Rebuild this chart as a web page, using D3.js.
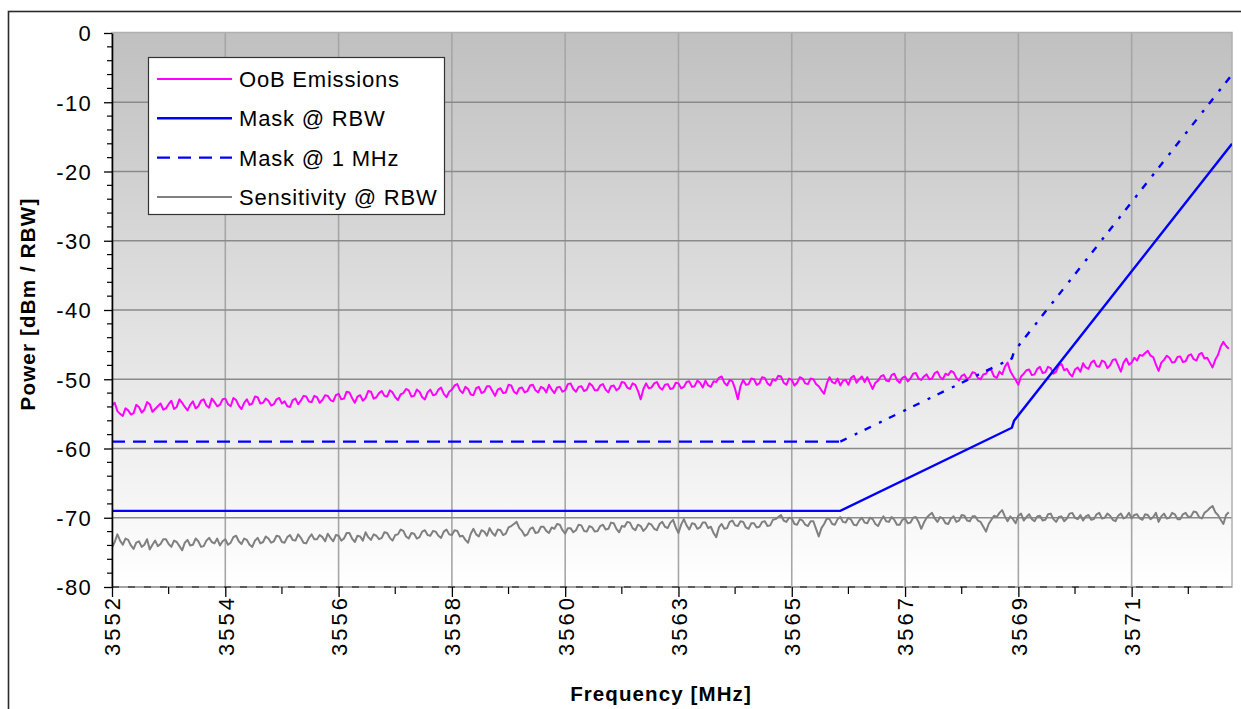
<!DOCTYPE html>
<html><head><meta charset="utf-8">
<script src="https://cdn.jsdelivr.net/npm/d3@7"></script>
<style>
html,body{margin:0;padding:0;background:#fff;}
svg{display:block;}
text{font-family:"Liberation Sans",Arial,sans-serif;fill:#000;}
</style></head><body>
<svg id="chart" width="1241" height="709"></svg>
<script>
// ---- data ----
const freqStart = 3552.0;   // MHz, first sweep point
const freqStep = 0.05;      // MHz, sweep spacing
const oobEmissions = [
-53.8,-53.4,-54.6,-55.0,-55.3,-54.2,-54.5,-55.1,-54.9,-53.7,-54.0,-54.8,-54.4,-53.3,-53.6,-54.7,-54.3,-53.9,-53.5,-54.4,
-54.2,-53.6,-53.1,-54.3,-54.0,-52.9,-53.4,-54.0,-54.5,-53.7,-53.2,-54.2,-53.9,-53.1,-52.9,-53.8,-54.1,-52.8,-53.3,-53.9,
-53.7,-52.9,-52.8,-53.6,-53.9,-52.7,-53.0,-53.8,-54.3,-53.4,-52.9,-53.7,-53.5,-52.5,-52.6,-53.5,-53.4,-52.8,-53.1,-53.8,
-53.6,-52.9,-52.7,-53.5,-53.2,-53.9,-54.0,-53.0,-52.8,-53.6,-53.1,-52.4,-52.5,-53.2,-53.3,-52.4,-52.6,-53.4,-53.0,-52.3,
-52.4,-53.0,-53.2,-52.3,-52.1,-52.9,-52.8,-51.8,-51.9,-52.7,-53.4,-52.5,-52.3,-53.1,-52.7,-51.7,-51.8,-52.8,-52.6,-52.0,
-51.7,-52.4,-52.5,-51.6,-51.9,-52.6,-53.0,-52.2,-52.0,-51.4,-51.6,-52.5,-52.4,-51.5,-51.8,-52.6,-52.9,-51.9,-51.5,-52.3,
-52.2,-51.5,-51.2,-52.1,-52.6,-51.8,-51.5,-50.9,-50.7,-51.6,-52.0,-51.1,-51.4,-52.2,-52.3,-51.3,-51.1,-52.0,-51.8,-51.0,
-51.0,-51.7,-52.4,-51.5,-51.3,-52.0,-51.9,-50.8,-50.9,-51.8,-52.1,-51.3,-51.2,-51.9,-51.7,-50.9,-50.8,-51.6,-51.9,-51.1,
-51.3,-51.9,-50.8,-51.5,-52.0,-51.2,-51.1,-51.8,-51.6,-50.7,-50.6,-51.4,-51.8,-51.1,-51.0,-51.7,-51.5,-50.6,-50.9,-51.6,
-51.6,-50.9,-50.7,-51.5,-51.9,-51.0,-50.9,-51.6,-51.3,-50.4,-50.5,-51.2,-51.4,-50.6,-50.8,-51.7,-52.9,-51.4,-50.6,-51.3,
-51.2,-50.6,-50.4,-51.2,-51.5,-50.8,-50.7,-51.4,-51.3,-50.5,-50.6,-51.3,-51.1,-50.4,-50.3,-51.1,-51.0,-50.2,-50.5,-51.2,
-50.2,-50.9,-51.1,-50.3,-50.4,-49.8,-49.6,-50.5,-50.9,-50.1,-50.3,-51.4,-52.9,-51.0,-50.1,-50.8,-50.7,-49.9,-50.0,-50.8,
-50.6,-49.7,-49.8,-50.6,-50.9,-50.0,-50.2,-49.5,-49.6,-50.5,-50.8,-49.9,-50.1,-50.9,-50.5,-49.7,-49.9,-50.6,-50.7,-49.9,
-50.0,-50.7,-51.0,-51.6,-52.1,-50.6,-49.7,-50.4,-50.6,-49.9,-50.9,-50.2,-50.1,-50.8,-49.8,-49.5,-50.5,-50.0,-49.6,-50.4,
-49.7,-50.6,-51.4,-50.5,-50.2,-49.6,-49.4,-50.2,-50.3,-49.4,-49.2,-50.1,-50.5,-49.8,-49.6,-50.3,-49.9,-49.2,-49.1,-49.9,
-50.1,-49.6,-49.3,-50.0,-49.9,-49.1,-48.9,-49.7,-50.0,-49.2,-49.4,-48.8,-49.0,-49.8,-50.2,-49.5,-49.3,-50.0,-49.7,-49.0,
-49.1,-49.8,-50.0,-49.3,-49.2,-48.6,-48.7,-49.6,-49.8,-48.9,-49.3,-48.2,-47.6,-48.8,-49.5,-50.1,-50.8,-49.6,-49.2,-48.7,
-48.6,-49.4,-49.3,-48.5,-48.2,-49.1,-49.0,-48.2,-48.4,-49.2,-48.9,-48.0,-47.8,-48.7,-48.5,-49.2,-49.6,-48.6,-48.3,-48.9,
-47.7,-48.3,-48.5,-47.6,-47.3,-48.1,-48.2,-47.3,-47.5,-48.4,-48.0,-47.2,-47.1,-48.0,-48.9,-47.6,-47.0,-47.9,-47.6,-46.9,
-47.3,-46.5,-46.6,-46.2,-45.9,-46.6,-46.8,-47.9,-48.8,-47.6,-47.2,-46.6,-46.9,-47.6,-47.5,-46.8,-46.7,-47.5,-47.4,-46.6,
-46.4,-47.1,-47.3,-46.4,-46.2,-47.0,-46.9,-47.6,-48.3,-47.2,-46.5,-45.3,-44.6,-45.2,-45.6
];
const sensitivity = [
-74.3,-73.5,-72.4,-73.3,-73.9,-73.0,-73.2,-74.0,-74.5,-73.6,-73.4,-74.2,-73.9,-73.1,-74.6,-73.9,-73.3,-74.1,-73.8,-73.1,
-73.1,-73.8,-74.2,-73.3,-73.5,-74.1,-74.7,-73.6,-73.2,-74.0,-73.9,-73.0,-73.4,-74.2,-74.1,-73.3,-72.9,-73.5,-73.7,-73.0,
-74.0,-73.4,-73.1,-73.9,-73.6,-72.8,-72.6,-73.4,-73.8,-73.0,-73.2,-73.9,-74.2,-73.3,-72.9,-73.7,-73.5,-72.7,-73.0,-73.6,
-73.4,-72.6,-72.7,-73.5,-73.6,-72.8,-72.5,-73.2,-73.3,-72.4,-72.9,-73.6,-73.7,-72.9,-72.4,-73.1,-73.1,-72.5,-72.8,-73.4,
-72.3,-72.9,-73.4,-72.5,-72.6,-73.3,-73.0,-72.2,-72.2,-73.0,-73.5,-72.6,-72.7,-73.3,-72.1,-72.8,-73.2,-72.4,-72.6,-73.1,
-72.9,-72.1,-72.2,-72.9,-73.3,-72.5,-72.4,-71.7,-71.9,-72.7,-73.0,-72.2,-72.3,-73.0,-72.8,-72.0,-71.8,-72.5,-72.6,-71.9,
-72.0,-72.6,-72.9,-72.0,-71.7,-72.4,-72.5,-71.8,-71.9,-72.7,-72.6,-73.2,-73.6,-72.3,-71.6,-72.4,-72.7,-71.8,-72.0,-72.6,
-71.5,-72.2,-72.6,-71.7,-71.8,-72.5,-72.3,-71.4,-71.2,-70.9,-70.6,-71.5,-71.9,-72.6,-72.4,-71.6,-71.4,-72.2,-72.1,-71.3,
-71.3,-71.9,-72.2,-71.4,-71.6,-70.9,-71.0,-71.8,-72.3,-71.5,-71.5,-72.1,-71.8,-71.0,-71.1,-71.9,-72.0,-71.2,-71.4,-72.0,
-71.9,-71.2,-71.0,-71.7,-71.6,-70.7,-70.8,-71.6,-72.1,-71.2,-71.3,-70.6,-70.7,-71.5,-71.8,-71.0,-71.2,-71.9,-71.5,-70.8,
-71.0,-71.6,-71.8,-70.9,-70.6,-71.3,-71.5,-70.7,-70.3,-71.4,-72.2,-71.0,-70.2,-71.1,-71.7,-70.8,-70.9,-71.6,-71.4,-70.7,
-70.7,-71.5,-71.3,-72.2,-72.8,-71.4,-70.9,-71.6,-71.5,-70.6,-70.4,-71.1,-71.2,-70.5,-70.6,-71.4,-71.6,-70.8,-70.8,-71.4,
-71.3,-70.6,-70.5,-71.2,-71.1,-70.3,-70.2,-69.9,-69.6,-70.4,-70.6,-70.0,-70.1,-70.9,-71.0,-70.2,-70.4,-71.0,-71.2,-70.5,
-70.5,-71.6,-72.7,-71.5,-70.9,-70.1,-70.2,-70.9,-71.0,-70.2,-69.9,-70.6,-70.7,-70.0,-70.3,-71.0,-71.1,-70.4,-70.0,-70.7,
-70.8,-70.0,-70.2,-70.9,-71.2,-70.4,-69.8,-70.5,-70.6,-69.9,-70.3,-71.0,-71.0,-70.3,-70.1,-70.8,-70.7,-70.0,-69.9,-70.6,
-71.6,-70.7,-70.0,-69.6,-69.3,-70.1,-70.6,-69.9,-70.1,-70.8,-70.9,-70.1,-69.8,-70.6,-70.4,-69.6,-69.7,-70.4,-70.5,-69.8,
-69.8,-70.4,-70.6,-71.3,-72.0,-70.9,-70.3,-69.7,-69.9,-69.3,-68.9,-69.8,-70.5,-69.8,-70.2,-70.8,-69.7,-69.4,-70.4,-69.9,
-69.5,-70.2,-70.5,-69.8,-69.7,-70.4,-70.3,-69.5,-69.4,-70.2,-70.6,-69.9,-69.8,-70.5,-70.1,-69.4,-69.3,-70.0,-70.2,-69.6,
-70.4,-69.8,-69.6,-70.3,-70.2,-69.5,-69.3,-70.1,-70.0,-69.4,-69.7,-70.3,-70.5,-69.7,-69.4,-70.1,-69.9,-69.3,-70.1,-69.6,
-69.5,-70.1,-70.3,-69.5,-69.6,-70.2,-69.9,-69.3,-70.6,-69.8,-69.4,-70.1,-70.0,-69.3,-69.5,-70.2,-70.2,-69.5,-69.3,-69.9,
-69.8,-69.1,-69.2,-69.9,-70.1,-69.3,-69.0,-68.6,-68.3,-69.2,-69.6,-70.3,-70.9,-69.6,-69.2
];
const maskFreq = [3552, 3565.5, 3568.68, 3568.72, 3572.76];
const maskRbw  = [-69, -69, -57, -56, -16];
const mask1MHz = [-59, -59, -47, -46, -6];
const xTickValues = [3552, 3554.1, 3556.2, 3558.3, 3560.4, 3562.5, 3564.6, 3566.7, 3568.8, 3570.9];
const xTickLabels = ["3552","3554","3556","3558","3560","3563","3565","3567","3569","3571"];
const yTickValues = [0,-10,-20,-30,-40,-50,-60,-70,-80];
const yTickLabels = ["0","-10","-20","-30","-40","-50","-60","-70","-80"];
const seriesNames = ["OoB Emissions","Mask @ RBW","Mask @ 1 MHz","Sensitivity @ RBW"];
const xTitle = "Frequency [MHz]";
const yTitle = "Power [dBm / RBW]";

// ---- drawing ----
const svg = d3.select("#chart");
const L = 112, R = 1232, T = 33, B = 587;
const x = d3.scaleLinear().domain([3552, 3572.76]).range([L, R]);
const y = d3.scaleLinear().domain([-80, 0]).range([B, T]);

svg.append("rect").attr("x",8.5).attr("y",11.5).attr("width",1245).attr("height",710)
  .attr("fill","#fff").attr("stroke","#2a2a2a").attr("stroke-width",1.6);

const defs = svg.append("defs");
const grad = defs.append("linearGradient").attr("id","bg").attr("x1",0).attr("y1",0).attr("x2",0).attr("y2",1);
grad.append("stop").attr("offset","0%").attr("stop-color","#c0c0c0");
grad.append("stop").attr("offset","100%").attr("stop-color","#ffffff");
defs.append("clipPath").attr("id","clip").append("rect")
  .attr("x",L).attr("y",T-2).attr("width",R-L).attr("height",B-T+4);

svg.append("rect").attr("x",L).attr("y",T).attr("width",R-L).attr("height",B-T).attr("fill","url(#bg)");

svg.append("g").selectAll("line").data(xTickValues.slice(1)).join("line")
  .attr("x1",d=>x(d)).attr("x2",d=>x(d)).attr("y1",T).attr("y2",B)
  .attr("stroke","#a6a6a6").attr("stroke-width",1.6);
svg.append("g").selectAll("line").data(yTickValues.filter(v=>v>-80 && v<0)).join("line")
  .attr("x1",L).attr("x2",R).attr("y1",d=>y(d)).attr("y2",d=>y(d))
  .attr("stroke","#8a8a8a").attr("stroke-width",1.3);
svg.append("rect").attr("x",L).attr("y",T-0.5).attr("width",R-L).attr("height",B-T+0.5)
  .attr("fill","none").attr("stroke","#b0b0b0").attr("stroke-width",1.5);
svg.append("line").attr("x1",L).attr("x2",R).attr("y1",y(-80)).attr("y2",y(-80))
  .attr("stroke","#9a9a9a").attr("stroke-width",1.5);
svg.append("line").attr("x1",L).attr("x2",R).attr("y1",y(-80)).attr("y2",y(-80))
  .attr("stroke","#111").attr("stroke-width",1.2).attr("stroke-dasharray","7,9");

const plot = svg.append("g").attr("clip-path","url(#clip)");
const sweep = oobEmissions.map((v,i)=>freqStart + i*freqStep);
const line = d3.line().x(d=>x(d[0])).y(d=>y(d[1]));
plot.append("path").datum(sensitivity.map((v,i)=>[sweep[i],v]))
  .attr("d",line).attr("fill","none").attr("stroke","#808080").attr("stroke-width",2)
  .attr("stroke-linejoin","round");
plot.append("path").datum(oobEmissions.map((v,i)=>[sweep[i],v]))
  .attr("d",line).attr("fill","none").attr("stroke","#ff00ff").attr("stroke-width",2)
  .attr("stroke-linejoin","round");
plot.append("path").datum(maskRbw.map((v,i)=>[maskFreq[i],v]))
  .attr("d",line).attr("fill","none").attr("stroke","#0000ff").attr("stroke-width",2.4);
const m1 = mask1MHz.map((v,i)=>[maskFreq[i],v]);
plot.append("path").datum(m1.slice(0,2))
  .attr("d",line).attr("fill","none").attr("stroke","#0000ff").attr("stroke-width",2.4)
  .attr("stroke-dasharray","13,8");
plot.append("path").datum(m1.slice(1))
  .attr("d",line).attr("fill","none").attr("stroke","#0000ff").attr("stroke-width",2.4)
  .attr("stroke-dasharray","7,9,3,8");

// y axis
const yAxis = svg.append("g").attr("transform",`translate(${L},0)`)
  .call(d3.axisLeft(y).tickValues(yTickValues).tickSize(8).tickSizeOuter(0)
    .tickFormat((d,i)=>yTickLabels[i]));
yAxis.select(".domain").attr("stroke","#000").attr("stroke-width",1.6);
yAxis.selectAll(".tick line").attr("stroke","#000").attr("stroke-width",1.3);
yAxis.selectAll(".tick text").attr("font-size",22).attr("letter-spacing","1.3px")
  .attr("x",-20).attr("dy","0.36em").attr("font-family","Liberation Sans, Arial, sans-serif").attr("fill","#000");
const yMinor = d3.range(-78,0,2).filter(v=>v%10!==0);
svg.append("g").selectAll("line").data(yMinor).join("line")
  .attr("x1",L-5).attr("x2",L).attr("y1",d=>y(d)).attr("y2",d=>y(d))
  .attr("stroke","#000").attr("stroke-width",1.2);

// x axis
const xAxis = svg.append("g").attr("transform",`translate(0,${B})`)
  .call(d3.axisBottom(x).tickValues(xTickValues).tickSize(10).tickSizeOuter(0)
    .tickFormat((d,i)=>xTickLabels[i]));
xAxis.select(".domain").remove();
xAxis.selectAll(".tick line").attr("stroke","#000").attr("stroke-width",1.3);
xAxis.selectAll(".tick text").attr("font-size",22).attr("letter-spacing","3px")
  .attr("transform","rotate(-90)").attr("text-anchor","end")
  .attr("x",-8).attr("y",0).attr("dy","0.36em")
  .attr("font-family","Liberation Sans, Arial, sans-serif").attr("fill","#000");
const xMinor = xTickValues.map(v=>v+1.05).filter(v=>v<3572.7);
svg.append("g").selectAll("line").data(xMinor).join("line")
  .attr("x1",d=>x(d)).attr("x2",d=>x(d)).attr("y1",B).attr("y2",B+7)
  .attr("stroke","#000").attr("stroke-width",1.2);

// titles
svg.append("text").attr("x",661).attr("y",701).attr("text-anchor","middle")
  .attr("font-size",20.5).attr("font-weight","bold").attr("letter-spacing","1.1px").text(xTitle);
svg.append("text").attr("transform","translate(35,304) rotate(-90)").attr("text-anchor","middle")
  .attr("font-size",20.5).attr("font-weight","bold").attr("letter-spacing","1.2px").text(yTitle);

// legend
const lg = svg.append("g");
lg.append("rect").attr("x",148.5).attr("y",57.5).attr("width",296).attr("height",157)
  .attr("fill","#fff").attr("stroke","#333").attr("stroke-width",1.2);
const styles = [
  {c:"#ff00ff",d:null,w:2},
  {c:"#0000ff",d:null,w:2.4},
  {c:"#0000ff",d:"13,8",w:2.4},
  {c:"#808080",d:null,w:2}
];
seriesNames.forEach((n,i)=>{
  const yy = 79 + i*39.3;
  lg.append("line").attr("x1",157).attr("x2",232).attr("y1",yy).attr("y2",yy)
    .attr("stroke",styles[i].c).attr("stroke-width",styles[i].w)
    .attr("stroke-dasharray",styles[i].d);
  lg.append("text").attr("x",239).attr("y",yy).attr("dy","0.36em")
    .attr("font-size",22).attr("letter-spacing","0.8px").text(n);
});
</script></body></html>
